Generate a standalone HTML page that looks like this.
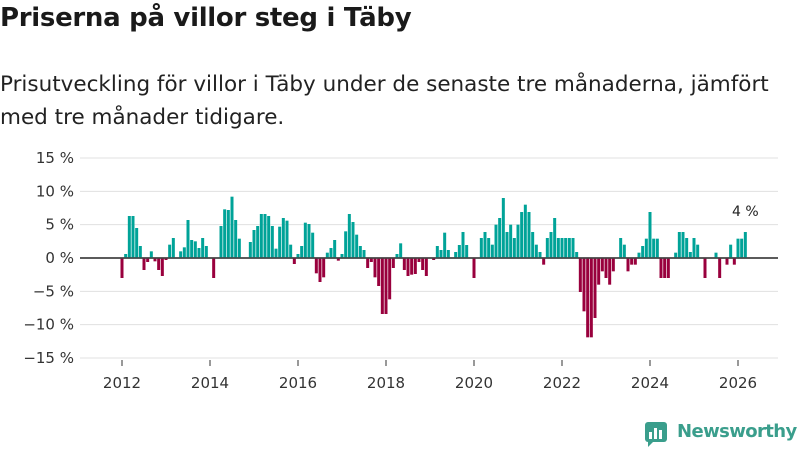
<!DOCTYPE html>
<html><head><meta charset="utf-8">
<style>
body{margin:0;width:800px;height:450px;background:#fff;font-family:"Liberation Sans","DejaVu Sans",sans-serif;color:#1a1a1a;overflow:hidden;position:relative}
h1{position:absolute;left:0;top:3px;margin:0;font-size:26px;font-weight:bold;font-family:"DejaVu Sans","Liberation Sans",sans-serif;letter-spacing:-0.3px}
p{position:absolute;left:0;top:68px;margin:0;font-size:21.5px;line-height:33px;width:790px;font-family:"DejaVu Sans","Liberation Sans",sans-serif;letter-spacing:0px;color:#222}
svg{position:absolute;left:0;top:0}
.logo{position:absolute;left:644px;top:421px;font-size:18px;font-weight:bold;color:#3a9e8c;font-family:"DejaVu Sans",sans-serif;letter-spacing:-0.6px;white-space:nowrap}
</style></head><body>
<h1>Priserna på villor steg i Täby</h1>
<p>Prisutveckling för villor i Täby under de senaste tre månaderna, jämfört med tre månader tidigare.</p>
<svg id="chart" width="800" height="450"></svg>
<div class="logo"><svg width="26" height="26" style="position:absolute;left:0;top:0px" viewBox="0 0 26 26"><rect x="1" y="1" width="22" height="20" rx="3" fill="#3a9e8c"/><rect x="5" y="11" width="3" height="7" fill="#fff"/><rect x="10" y="7" width="3" height="11" fill="#fff"/><rect x="15" y="9" width="3" height="9" fill="#fff"/><path d="M4 21 L4 26 L9 21Z" fill="#3a9e8c"/></svg><span style="margin-left:33px">Newsworthy</span></div>
<script>
const values=[-3,0.6,6.3,6.3,4.5,1.8,-1.8,-0.6,1,-0.5,-1.8,-2.7,-0.3,2,3,0,1,1.6,5.7,2.7,2.5,1.5,3,1.8,0,-3,0,4.8,7.3,7.2,9.2,5.7,2.9,0,0,2.4,4.2,4.8,6.6,6.6,6.3,4.8,1.4,4.7,6,5.6,2,-0.9,0.6,1.8,5.3,5.1,3.8,-2.3,-3.6,-2.9,0.8,1.5,2.7,-0.4,0.6,4,6.6,5.4,3.5,1.8,1.2,-1.5,-0.6,-2.9,-4.2,-8.4,-8.4,-6.2,-1.5,0.6,2.2,-1.8,-2.7,-2.5,-2.4,-0.6,-1.8,-2.7,0,-0.3,1.8,1.2,3.8,1.2,0,0.9,1.95,3.9,1.95,0,-3,0,3,3.9,3,2,5,6,9,3.9,5,3,5,6.9,8,6.9,3.9,2,0.9,-1,3,3.9,6,3,3,3,3,3,0.9,-5.1,-8,-11.9,-11.9,-9,-4,-2,-3,-4,-2,0,3,2,-2,-1,-1,0.8,1.8,2.9,6.9,2.9,2.9,-3,-3,-3,0,0.8,3.9,3.9,3,0.9,3,2,0,-3,0,0,0.8,-3,0,-1,2,-1,2.9,2.9,3.9];
const startYear=2012;
const yTicks=[15,10,5,0,-5,-10,-15];
const xTicks=[2012,2014,2016,2018,2020,2022,2024,2026];
const lastLabel="4 %";
const NS="http://www.w3.org/2000/svg",svg=document.getElementById('chart');
const x=m=>122+m*(88/24);
const y=v=>258-v*(100/15);
function mk(t,a){const e=document.createElementNS(NS,t);for(const k in a)e.setAttribute(k,a[k]);svg.appendChild(e);return e;}
yTicks.forEach(v=>{
 const g=mk('line',{x1:80,x2:778,y1:y(v),y2:y(v),stroke:v===0?'#444':'#e0e0e0','stroke-width':v===0?1.5:1});
 
 
 const t=mk('text',{x:74,y:y(v)+5,'text-anchor':'end','font-size':15,fill:'#333','font-family':'DejaVu Sans,Liberation Sans,sans-serif'});
 t.textContent=(v<0?'−'+(-v):v)+' %';
 
 
});
values.forEach((v,i)=>{
 if(v===0)return;
 const r=mk('rect',{x:x(i)-1.5,width:3,y:Math.min(y(v),y(0)),height:Math.abs(y(v)-y(0)),fill:v>0?'#00a398':'#99003d'});
 
 
});
mk('line',{x1:80,x2:778,y1:y(0),y2:y(0),stroke:'#444','stroke-width':1.5});
xTicks.forEach(yr=>{
 const xx=x((yr-startYear)*12);
 const l=mk('line',{x1:xx,x2:xx,y1:360,y2:366,stroke:'#333'});
 
 
 const t=mk('text',{x:xx,y:388,'text-anchor':'middle','font-size':15,fill:'#333','font-family':'DejaVu Sans,Liberation Sans,sans-serif'});
 t.textContent=yr;
 
 
});
const lt=mk('text',{x:x(values.length-1),y:216,'text-anchor':'middle','font-size':14,fill:'#222','font-family':'DejaVu Sans,Liberation Sans,sans-serif'});
lt.textContent=lastLabel;


</script>
</body></html>
